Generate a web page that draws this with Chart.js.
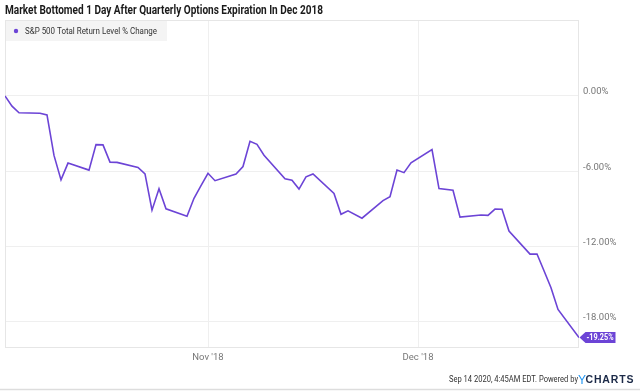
<!DOCTYPE html>
<html>
<head>
<meta charset="utf-8">
<script src="https://cdn.jsdelivr.net/npm/chart.js@4"></script>
<style>
  html, body { margin: 0; padding: 0; background: #ffffff; }
  canvas { display: block; }
</style>
</head>
<body>
<canvas id="c" width="640" height="391"></canvas>
<script>
// ---- Data ----
const chartTitle = 'Market Bottomed 1 Day After Quarterly Options Expiration In Dec 2018';
const seriesName = 'S&P 500 Total Return Level % Change';
const dates = [
  '2018-10-03','2018-10-04','2018-10-05','2018-10-08','2018-10-09','2018-10-10','2018-10-11','2018-10-12',
  '2018-10-15','2018-10-16','2018-10-17','2018-10-18','2018-10-19','2018-10-22','2018-10-23','2018-10-24',
  '2018-10-25','2018-10-26','2018-10-29','2018-10-30','2018-10-31',
  '2018-11-01','2018-11-02','2018-11-05','2018-11-06','2018-11-07','2018-11-08','2018-11-09','2018-11-12',
  '2018-11-13','2018-11-14','2018-11-15','2018-11-16','2018-11-19','2018-11-20','2018-11-21','2018-11-23',
  '2018-11-26','2018-11-27','2018-11-28','2018-11-29','2018-11-30',
  '2018-12-03','2018-12-04','2018-12-06','2018-12-07','2018-12-10','2018-12-11','2018-12-12','2018-12-13',
  '2018-12-14','2018-12-17','2018-12-18','2018-12-19','2018-12-20','2018-12-21','2018-12-24'
];
const values = [
  0.00, -0.81, -1.34, -1.38, -1.51, -4.74, -6.69, -5.35,
  -5.91, -3.88, -3.90, -5.27, -5.29, -5.70, -6.21, -9.10,
  -7.39, -8.99, -9.58, -8.15, -7.15,
  -6.16, -6.75, -6.22, -5.62, -3.62, -3.85, -4.72, -6.59,
  -6.72, -7.42, -6.44, -6.22, -7.77, -9.43, -9.15, -9.74,
  -8.34, -8.03, -5.90, -6.11, -5.33,
  -4.28, -7.38, -7.51, -9.65, -9.49, -9.51, -9.01, -9.03,
  -10.76, -12.60, -12.59, -13.93, -15.28, -17.01, -19.25
];
const xTickDates = ['2018-11-01', '2018-12-01'];
const xTickLabels = ["Nov '18", "Dec '18"];
const yTickValues = [0, -6, -12, -18];
const footerText = 'Sep 14 2020, 4:45AM EDT. Powered by';
const logoMark = 'Y';
const logoWord = 'CHARTS';

// ---- helpers ----
const DAY = 86400000;
const t0 = Date.parse(dates[0] + 'T00:00:00Z');
const dayIndex = d => Math.round((Date.parse(d + 'T00:00:00Z') - t0) / DAY);
const points = dates.map((d, i) => ({ x: dayIndex(d), y: values[i] }));
const xMax = dayIndex(dates[dates.length - 1]);

const PURPLE = '#6c44d6';
const NARROW = "'Liberation Sans Narrow', 'Roboto', sans-serif";

function fitText(ctx, text, x, y, targetW, font, color, align) {
  ctx.save();
  ctx.font = font;
  ctx.fillStyle = color;
  ctx.textBaseline = 'middle';
  ctx.textAlign = 'left';
  const w = ctx.measureText(text).width;
  const sx = targetW ? targetW / w : 1;
  const startX = align === 'right' ? x - w * sx : x;
  ctx.translate(startX, y);
  ctx.scale(sx, 1);
  ctx.fillText(text, 0, 0);
  ctx.restore();
}

const decor = {
  id: 'decor',
  beforeDraw(chart) {
    const ctx = chart.ctx;
    ctx.save();
    ctx.fillStyle = '#ffffff';
    ctx.fillRect(0, 0, chart.width, chart.height);
    ctx.restore();
  },
  beforeDatasetsDraw(chart) {
    const { ctx, chartArea: a } = chart;
    ctx.save();
    ctx.strokeStyle = '#e6e6e6';
    ctx.lineWidth = 1;
    ctx.strokeRect(Math.round(a.left) + 0.5, Math.round(a.top) + 0.5,
                   Math.round(a.right - a.left) - 1, Math.round(a.bottom - a.top));
    // legend box
    ctx.fillStyle = '#f4f4f4';
    ctx.fillRect(a.left + 1, a.top + 1, 161, 20);
    ctx.fillStyle = PURPLE;
    ctx.beginPath();
    ctx.arc(16, a.top + 11, 2.2, 0, Math.PI * 2);
    ctx.fill();
    ctx.restore();
    fitText(ctx, chart.data.datasets[0].label, 25, a.top + 11.5, 132, '9.5px ' + NARROW, '#333333');
  },
  afterDraw(chart) {
    const { ctx } = chart;
    // title
    fitText(ctx, chartTitle, 5, 10.5, 318, 'bold 12.5px ' + NARROW, '#1a1a1a');
    // last value label
    const meta = chart.getDatasetMeta(0);
    const last = meta.data[meta.data.length - 1];
    const lx = chart.chartArea.right + 0.5, ly = last.y;
    ctx.save();
    ctx.fillStyle = PURPLE;
    ctx.beginPath();
    ctx.moveTo(lx, ly);
    ctx.lineTo(lx + 6, ly - 5.5);
    ctx.lineTo(lx + 36, ly - 5.5);
    ctx.lineTo(lx + 36, ly + 5.5);
    ctx.lineTo(lx + 6, ly + 5.5);
    ctx.closePath();
    ctx.fill();
    ctx.restore();
    fitText(ctx, values[values.length - 1].toFixed(2) + '%', lx + 7, ly + 0.5, 27, 'bold 9.5px ' + NARROW, '#ffffff');
    // footer text
    fitText(ctx, footerText, 578, 380, 129, '9.5px ' + NARROW, '#333333', 'right');
    // logo
    ctx.save();
    ctx.textBaseline = 'middle';
    ctx.textAlign = 'left';
    ctx.font = '12px ' + "'Liberation Sans', Arial, sans-serif";
    ctx.fillStyle = '#2196f3';
    ctx.fillText(logoMark, 578, 380.5);
    ctx.font = 'bold 10.5px ' + "'Liberation Sans', Arial, sans-serif";
    ctx.fillStyle = '#1c2a48';
    const letters = logoWord.split('');
    const widths = letters.map(ch => ctx.measureText(ch).width);
    const total = widths.reduce((s, w) => s + w, 0);
    const gap = (48 - total) / (letters.length - 1);
    let x = 585.5;
    letters.forEach((ch, i) => { ctx.fillText(ch, x, 380.5); x += widths[i] + gap; });
    // bottom rule
    ctx.strokeStyle = '#dddddd';
    ctx.lineWidth = 1.5;
    ctx.beginPath();
    ctx.moveTo(0, 389.5);
    ctx.lineTo(640, 389.5);
    ctx.stroke();
    ctx.restore();
  }
};

new Chart(document.getElementById('c'), {
  type: 'line',
  data: {
    datasets: [{
      label: seriesName,
      data: points,
      borderColor: PURPLE,
      borderWidth: 1.6,
      pointRadius: 0,
      pointHoverRadius: 0,
      tension: 0,
      fill: false
    }]
  },
  options: {
    responsive: false,
    devicePixelRatio: 1,
    animation: false,
    layout: { padding: { left: 5, top: 20, right: 0, bottom: 0 } },
    plugins: { legend: { display: false }, title: { display: false }, tooltip: { enabled: false } },
    scales: {
      x: {
        type: 'linear',
        min: 0,
        max: xMax,
        position: 'bottom',
        border: { display: false },
        grid: { color: '#efefef', lineWidth: 1, drawTicks: false },
        afterBuildTicks: s => { s.ticks = xTickDates.map(d => ({ value: dayIndex(d) })); },
        afterFit: s => { s.height = 44; },
        ticks: {
          padding: 5,
          maxRotation: 0,
          autoSkip: false,
          color: '#777777',
          font: { family: NARROW, size: 9.5 },
          callback: v => { const i = xTickDates.findIndex(d => dayIndex(d) === v); return i >= 0 ? xTickLabels[i] : ''; }
        }
      },
      y: {
        type: 'linear',
        position: 'right',
        min: -20,
        max: 6.05,
        border: { display: false },
        grid: { color: '#efefef', lineWidth: 1, drawTicks: false },
        afterBuildTicks: s => { s.ticks = yTickValues.map(v => ({ value: v })); },
        afterFit: s => { s.width = 61; },
        ticks: {
          padding: 4,
          labelOffset: -4,
          color: '#777777',
          font: { family: NARROW, size: 9.5 },
          callback: v => v.toFixed(2) + '%'
        }
      }
    }
  },
  plugins: [decor]
});
</script>
</body>
</html>
